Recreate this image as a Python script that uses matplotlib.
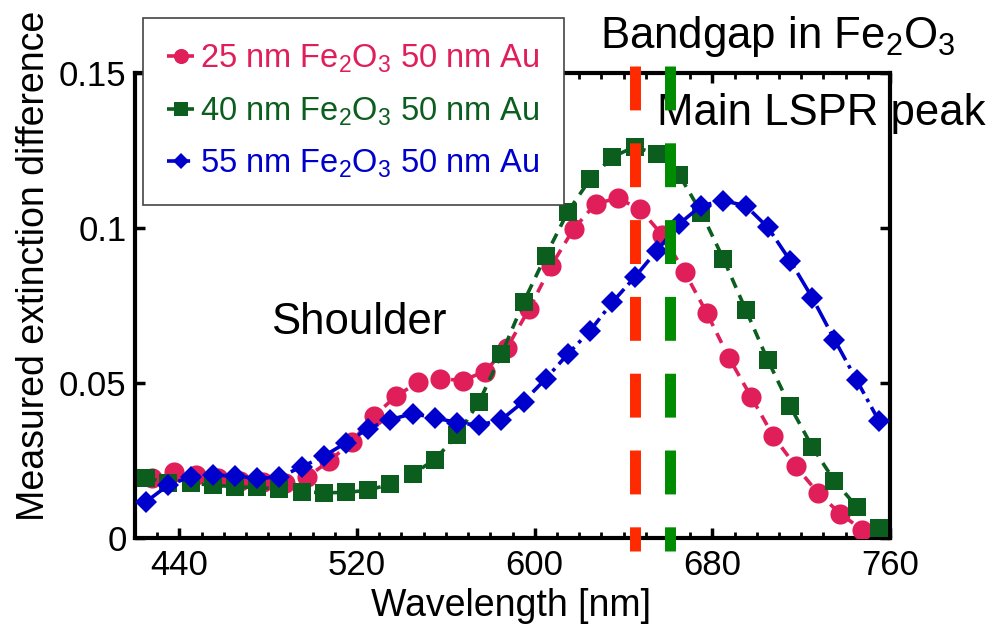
import matplotlib
matplotlib.use('Agg')
import matplotlib.pyplot as plt

plt.rcParams['font.family'] = ['Liberation Sans', 'DejaVu Sans']
plt.rcParams['mathtext.fontset'] = 'custom'
plt.rcParams['mathtext.rm'] = 'Liberation Sans'
plt.rcParams['mathtext.it'] = 'Liberation Sans:italic'

# Dados
wl_25 = [427.5 + 10 * i for i in range(33)]
ext_25 = [0.0192, 0.0213, 0.0203, 0.0192, 0.0185, 0.0180, 0.0176, 0.0197, 0.0248, 0.0310,
          0.0393, 0.0457, 0.0503, 0.0514, 0.0508, 0.0537, 0.0613, 0.0739, 0.0879, 0.0997,
          0.1079, 0.1096, 0.1060, 0.0977, 0.0858, 0.0726, 0.0581, 0.0455, 0.0328, 0.0232,
          0.0146, 0.0079, 0.0026]

wl_40 = [425 + 10 * i for i in range(34)]
ext_40 = [0.0195, 0.0177, 0.0176, 0.0171, 0.0165, 0.0163, 0.0158, 0.0149, 0.0146, 0.0147,
          0.0154, 0.0174, 0.0206, 0.0253, 0.0331, 0.0440, 0.0592, 0.0761, 0.0911, 0.1053,
          0.1158, 0.1229, 0.1262, 0.1238, 0.1172, 0.1050, 0.0900, 0.0737, 0.0573, 0.0425,
          0.0294, 0.0184, 0.0101, 0.0031]

wl_55 = [425 + 10 * i for i in range(34)]
ext_55 = [0.0117, 0.0171, 0.0197, 0.0203, 0.0200, 0.0192, 0.0197, 0.0229, 0.0264, 0.0307,
          0.0353, 0.0382, 0.0401, 0.0388, 0.0372, 0.0364, 0.0382, 0.0440, 0.0514, 0.0594,
          0.0669, 0.0761, 0.0841, 0.0927, 0.1013, 0.1072, 0.1088, 0.1072, 0.1002, 0.0895,
          0.0775, 0.0640, 0.0509, 0.0378]

labels = [r'25 nm Fe$_\mathrm{2}$O$_\mathrm{3}$ 50 nm Au',
          r'40 nm Fe$_\mathrm{2}$O$_\mathrm{3}$ 50 nm Au',
          r'55 nm Fe$_\mathrm{2}$O$_\mathrm{3}$ 50 nm Au']

bandgap_nm = 645
lspr_nm = 661

x_ticks = [440, 520, 600, 680, 760]
y_ticks = [0, 0.05, 0.1, 0.15]
y_tick_labels = ['0', '0.05', '0.1', '0.15']

fig = plt.figure(figsize=(10.07, 6.28), dpi=100)
ax = fig.add_axes([135 / 1007, 90 / 628, 755 / 1007, 465 / 628])

# Linhas verticais tracejadas (bandgap e LSPR)
for xv, cor in [(bandgap_nm, '#ff2a00'), (lspr_nm, '#008c00')]:
    ax.plot([xv, xv], [0.1523, -0.0042], color=cor, lw=7.9, dashes=(4.0, 3.0),
            clip_on=False, zorder=4, solid_capstyle='butt', dash_capstyle='butt')

ax.plot(wl_25, ext_25, linestyle='--', dashes=(3, 2.2), color='#e01e5a', lw=2.6,
        marker='o', markersize=14.5, markeredgewidth=0, label=labels[0], zorder=3)
ax.plot(wl_40, ext_40, linestyle='--', dashes=(3, 2.2), color='#0b5e1e', lw=2.6,
        marker='s', markersize=13.5, markeredgewidth=0, label=labels[1], zorder=3)
ax.plot(wl_55, ext_55, linestyle='-.', color='#0000cd', lw=2.6,
        marker='D', markersize=11, markeredgewidth=0, label=labels[2], zorder=3)

ax.set_xlim(420, 760)
ax.set_ylim(0, 0.15)
ax.set_xticks(x_ticks)
ax.set_xticks(range(430, 760, 10), minor=True)
ax.set_yticks(y_ticks)
ax.set_yticklabels(y_tick_labels)

for s in ax.spines.values():
    s.set_linewidth(3)
ax.tick_params(which='both', direction='in', top=True, right=True, labelsize=25)
ax.tick_params(which='major', length=7, width=2.5)
ax.tick_params(which='minor', length=4, width=2)
ax.tick_params(axis='x', pad=8)
ax.tick_params(axis='y', pad=6)

ax.set_xlabel('Wavelength [nm]', fontsize=27)
ax.set_ylabel('Measured extinction difference', fontsize=27)
ax.xaxis.set_label_coords(0.498, -0.108)
ax.yaxis.set_label_coords(-0.11, 0.585)

ax.text(521, 0.0695, 'Shoulder', fontsize=31.5, ha='center', va='center')
ax.text(729, 0.137, 'Main LSPR peak', fontsize=31.5, ha='center', va='center', clip_on=False)
ax.text(709.5, 0.1619, r'Bandgap in Fe$_\mathrm{2}$O$_\mathrm{3}$', fontsize=31.5,
        ha='center', va='center', clip_on=False)

leg = ax.legend(loc='upper left', bbox_to_anchor=(143 / 1007, 1 - 18 / 628),
                bbox_transform=fig.transFigure, borderaxespad=0, fontsize=23.5,
                labelcolor='linecolor', fancybox=False, framealpha=1, markerscale=0.75,
                handlelength=0.8, handletextpad=0.2, labelspacing=0.62, borderpad=0.75)
leg.get_frame().set_edgecolor('#444444')
leg.get_frame().set_linewidth(1.2)
leg.set_zorder(10)

plt.savefig('out.png', dpi=100)
